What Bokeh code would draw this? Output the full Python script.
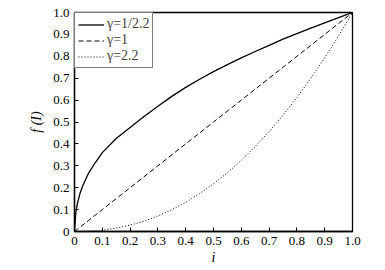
from bokeh.plotting import figure
from bokeh.models import Range1d, Legend, LegendItem, FixedTicker
from bokeh.embed import file_html
from bokeh.resources import INLINE

# data
i_vals = [0, 0.005, 0.01, 0.02, 0.03, 0.05, 0.075, 0.1, 0.15, 0.2, 0.25, 0.3, 0.35,
          0.4, 0.45, 0.5, 0.55, 0.6, 0.65, 0.7, 0.75, 0.8, 0.85, 0.9, 0.95, 1.0]
f_low = [0, 0.09, 0.125, 0.175, 0.21, 0.265, 0.315, 0.36, 0.425, 0.475, 0.525, 0.572, 0.617,
         0.658, 0.695, 0.73, 0.762, 0.793, 0.822, 0.85, 0.878, 0.904, 0.929, 0.953, 0.977, 1.0]
f_lin = [0, 0.005, 0.01, 0.02, 0.03, 0.05, 0.075, 0.1, 0.15, 0.2, 0.25, 0.3, 0.35,
         0.4, 0.45, 0.5, 0.55, 0.6, 0.65, 0.7, 0.75, 0.8, 0.85, 0.9, 0.95, 1.0]
f_high = [0, 0.0, 0.0, 0.0002, 0.0005, 0.0014, 0.0034, 0.0063, 0.0154, 0.029, 0.047, 0.071, 0.099,
          0.133, 0.173, 0.218, 0.268, 0.325, 0.388, 0.456, 0.531, 0.612, 0.699, 0.793, 0.893, 1.0]
labels = ["\u03b3=1/2.2", "\u03b3=1", "\u03b3=2.2"]
ticks = [0, 0.1, 0.2, 0.3, 0.4, 0.5, 0.6, 0.7, 0.8, 0.9, 1.0]
tick_labels = ["0", "0.1", "0.2", "0.3", "0.4", "0.5", "0.6", "0.7", "0.8", "0.9", "1.0"]

FONT = "'Liberation Serif', 'Times New Roman', serif"

p = figure(width=385, height=270, output_backend="svg", toolbar_location=None,
           x_range=Range1d(0, 1), y_range=Range1d(0, 1),
           min_border_left=74, min_border_right=33, min_border_top=12, min_border_bottom=39)
p.background_fill_color = "white"
p.border_fill_color = "white"
p.outline_line_color = "black"
p.outline_line_width = 1.3
p.grid.visible = False

r1 = p.line(i_vals, f_low, line_color="black", line_width=1.3)
r2 = p.line(i_vals, f_lin, line_color="black", line_width=1.0, line_dash="5 3")
r3 = p.line(i_vals, f_high, line_color="black", line_width=1.0, line_dash="1 2")

overrides = {t: l for t, l in zip(ticks, tick_labels)}
for ax in (p.xaxis[0], p.yaxis[0]):
    ax.ticker = FixedTicker(ticks=ticks)
    ax.major_label_overrides = overrides
    ax.major_tick_in = 4
    ax.major_tick_out = 0
    ax.minor_tick_in = 0
    ax.minor_tick_out = 0
    ax.major_tick_line_color = "black"
    ax.axis_line_color = "black"
    ax.axis_line_width = 1.3
    ax.major_label_text_font = FONT
    ax.major_label_text_font_size = "13px"
    ax.major_label_text_font_style = "normal"
    ax.major_label_text_color = "black"
    ax.major_label_standoff = 5
    ax.axis_label_text_font = FONT
    ax.axis_label_text_font_size = "14px"
    ax.axis_label_text_font_style = "italic"
    ax.axis_label_text_color = "black"

p.xaxis[0].axis_label = "i"
p.xaxis[0].axis_label_standoff = 2
p.yaxis[0].axis_label = "f (I)"
p.yaxis[0].axis_label_standoff = 6

legend = Legend(items=[LegendItem(label=labels[0], renderers=[r1]),
                       LegendItem(label=labels[1], renderers=[r2]),
                       LegendItem(label=labels[2], renderers=[r3])],
                location="top_left")
legend.margin = 0
legend.padding = 3
legend.spacing = -2
legend.border_line_color = "black"
legend.border_line_width = 1.3
legend.label_text_font = FONT
legend.label_text_font_size = "14px"
legend.label_standoff = 3
legend.glyph_width = 26
legend.glyph_height = 13
legend.label_height = 13
legend.background_fill_alpha = 1
p.add_layout(legend)

html = file_html(p, INLINE)
open("out.html", "w").write(html)
